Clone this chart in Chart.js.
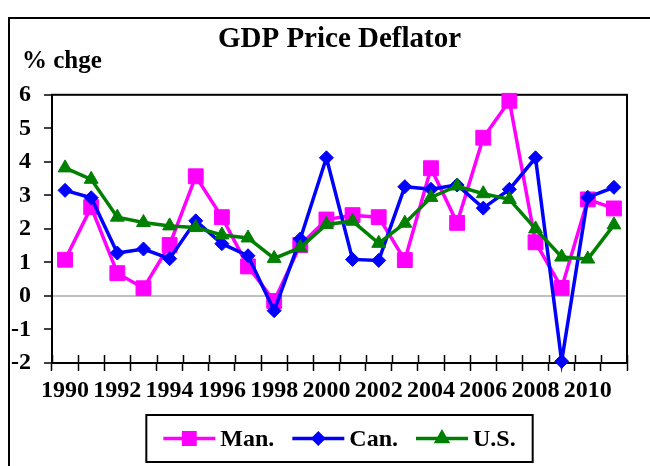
<!DOCTYPE html>
<html>
<head>
<meta charset="utf-8">
<script src="https://cdn.jsdelivr.net/npm/chart.js@4"></script>
<style>
  html, body { margin: 0; padding: 0; background: #fff; }
  #wrap { width: 650px; height: 466px; }
</style>
</head>
<body>
<div id="wrap"><canvas id="gdpChart" width="650" height="466"></canvas></div>
<script>
// Chart data
const YEARS = ["1990", "1991", "1992", "1993", "1994", "1995", "1996", "1997", "1998", "1999", "2000",
  "2001", "2002", "2003", "2004", "2005", "2006", "2007", "2008", "2009", "2010", "2011"];
const MAN = [1.08, 2.65, 0.68, 0.23, 1.52, 3.57, 2.35, 0.88, -0.15, 1.52, 2.28,
  2.41, 2.35, 1.07, 3.81, 2.18, 4.72, 5.82, 1.6, 0.24, 2.88, 2.61];
const CAN = [3.15, 2.93, 1.28, 1.4, 1.11, 2.24, 1.56, 1.2, -0.44, 1.7, 4.12,
  1.09, 1.06, 3.26, 3.18, 3.31, 2.62, 3.18, 4.12, -1.95, 2.94, 3.24];
const US = [3.82, 3.48, 2.35, 2.19, 2.09, 2.04, 1.82, 1.73, 1.12, 1.44, 2.13,
  2.23, 1.57, 2.17, 2.94, 3.28, 3.05, 2.88, 2.0, 1.16, 1.1, 2.12];
const Y_TICKS = [-2, -1, 0, 1, 2, 3, 4, 5, 6];

const TITLE = "GDP Price Deflator";
const Y_CAPTION = "% chge";
const FONT = '"Liberation Serif", "Times New Roman", serif';

const MAGENTA = "#ff00ff";
const BLUE = "#0000ff";
const GREEN = "#008000";

// Extra drawing: outer frame, plot border, inner x tick halves, y caption, legend
const decorPlugin = {
  id: "decor",
  beforeDraw(chart) {
    const ctx = chart.ctx;
    ctx.save();
    ctx.fillStyle = "#fff";
    ctx.fillRect(0, 0, chart.width, chart.height);
    ctx.restore();
  },
  beforeDatasetsDraw(chart) {
    const { ctx, chartArea: a } = chart;
    const xs = chart.scales.x;
    ctx.save();
    ctx.strokeStyle = "#000";
    ctx.lineWidth = 2;
    ctx.strokeRect(a.left, a.top, a.right - a.left, a.bottom - a.top);
    // x tick marks cross the axis line
    ctx.beginPath();
    for (let i = 0; i <= YEARS.length; i++) {
      const x = Math.round(xs.getPixelForValue(i - 0.5)) + 0.5;
      ctx.moveTo(x, a.bottom - 8);
      ctx.lineTo(x, a.bottom);
    }
    ctx.lineWidth = 1.5;
    ctx.stroke();
    ctx.restore();
  },
  afterDraw(chart) {
    const { ctx, chartArea: a } = chart;
    ctx.save();
    // outer frame (top and left edges visible)
    ctx.strokeStyle = "#000";
    ctx.lineWidth = 2;
    ctx.beginPath();
    ctx.moveTo(9, chart.height);
    ctx.lineTo(9, 18);
    ctx.lineTo(chart.width, 18);
    ctx.stroke();

    // y caption
    ctx.fillStyle = "#000";
    ctx.font = "bold 25px " + FONT;
    ctx.textBaseline = "middle";
    ctx.textAlign = "left";
    ctx.fillText(Y_CAPTION, 22, 62);

    // legend
    const items = chart.data.datasets.map((d) => ({
      label: d.label, color: d.borderColor, style: d.pointStyle, r: d.legendRadius,
    }));
    const lineLen = 52, gap = 5, itemGap = 18, pad = 17;
    ctx.font = "bold 24px " + FONT;
    let total = 0;
    items.forEach((it, i) => {
      it.w = ctx.measureText(it.label).width;
      total += lineLen + gap + it.w + (i ? itemGap : 0);
    });
    const cx = (a.left + a.right) / 2;
    const boxW = total + pad * 2;
    const boxTop = 415, boxH = 47;
    const boxLeft = cx - boxW / 2;
    ctx.strokeRect(boxLeft, boxTop, boxW, boxH);
    const cy = boxTop + boxH / 2;
    let x = boxLeft + pad;
    items.forEach((it) => {
      ctx.strokeStyle = it.color;
      ctx.fillStyle = it.color;
      ctx.lineWidth = 3.5;
      ctx.beginPath();
      ctx.moveTo(x, cy);
      ctx.lineTo(x + lineLen, cy);
      ctx.stroke();
      Chart.helpers.drawPoint(ctx, { pointStyle: it.style, radius: it.r, rotation: 0, borderWidth: 1 },
        x + lineLen / 2, cy);
      x += lineLen + gap;
      ctx.fillStyle = "#000";
      ctx.fillText(it.label, x, cy + 1);
      x += it.w + itemGap;
    });
    ctx.restore();
  },
};

function series(label, data, color, style, radius, legendRadius, order) {
  return {
    label,
    data,
    borderColor: color,
    backgroundColor: color,
    borderWidth: 3.5,
    pointStyle: style,
    pointRadius: radius,
    pointHoverRadius: radius,
    pointBorderWidth: 1,
    pointBackgroundColor: color,
    pointBorderColor: color,
    legendRadius,
    tension: 0,
    clip: false,
    order,
  };
}

new Chart(document.getElementById("gdpChart"), {
  type: "line",
  data: {
    labels: YEARS,
    datasets: [
      series("Man.", MAN, MAGENTA, "rect", 10.5, 8, 3),
      series("Can.", CAN, BLUE, "rectRot", 7, 5, 2),
      series("U.S.", US, GREEN, "triangle", 8, 6, 1),
    ],
  },
  options: {
    responsive: false,
    animation: false,
    events: [],
    layout: { padding: { left: 8, right: 23, top: 17, bottom: 0 } },
    plugins: {
      legend: { display: false },
      tooltip: { enabled: false },
      title: {
        display: true,
        text: TITLE,
        fullSize: false,
        color: "#000",
        font: { family: FONT, size: 29, weight: "bold" },
        padding: { top: 5, bottom: 38 },
      },
    },
    scales: {
      x: {
        type: "category",
        offset: true,
        afterFit: (s) => { s.height = 103; },
        border: { display: false },
        grid: {
          offset: true,
          drawOnChartArea: false,
          drawTicks: true,
          tickLength: 8,
          tickColor: "#000",
          tickWidth: 1.5,
        },
        ticks: {
          autoSkip: false,
          maxRotation: 0,
          padding: 5,
          color: "#000",
          font: { family: FONT, size: 24, weight: "bold" },
          callback: (v, i) => (i % 2 === 0 ? YEARS[i] : ""),
        },
      },
      y: {
        min: Y_TICKS[0],
        max: Y_TICKS[Y_TICKS.length - 1],
        afterFit: (s) => { s.width = 44; },
        afterBuildTicks: (s) => { s.ticks = Y_TICKS.map((v) => ({ value: v })); },
        border: { display: false },
        grid: {
          drawOnChartArea: true,
          drawTicks: true,
          tickLength: 8,
          tickColor: "#000",
          tickWidth: 1.5,
          lineWidth: 2,
          color: (c) => (c.tick && c.tick.value === 0 ? "#c0c0c0" : "rgba(0,0,0,0)"),
        },
        ticks: {
          padding: 13,
          color: "#000",
          font: { family: FONT, size: 24, weight: "bold" },
        },
      },
    },
  },
  plugins: [decorPlugin],
});
</script>
</body>
</html>
